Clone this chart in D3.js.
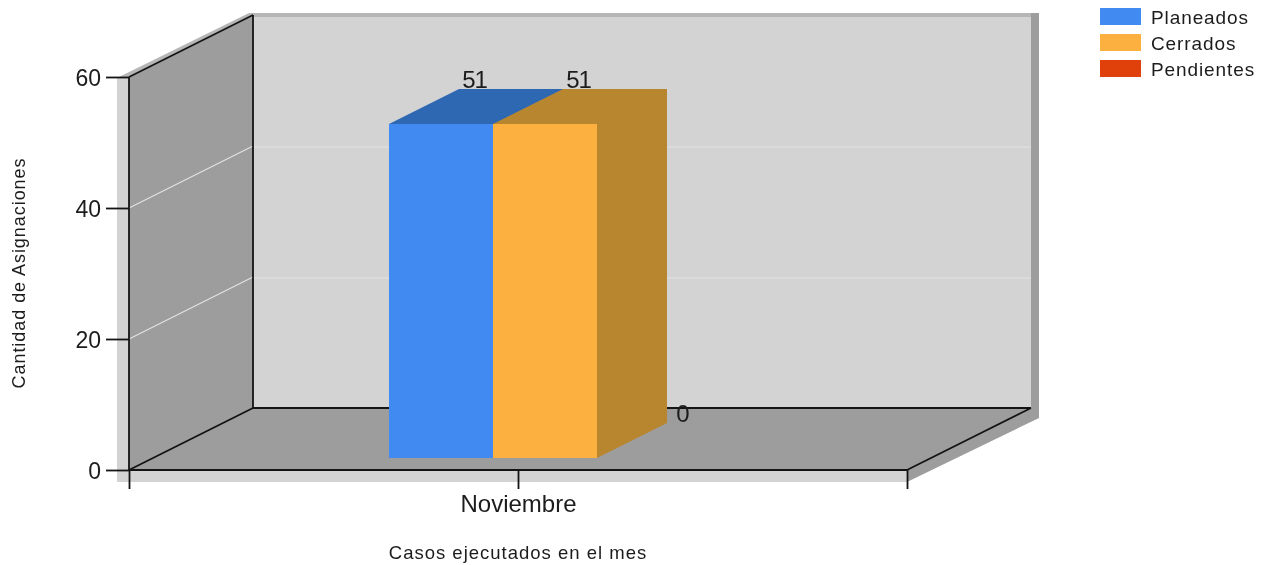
<!DOCTYPE html>
<html><head><meta charset="utf-8">
<script src="https://cdn.jsdelivr.net/npm/d3@7"></script>
<style>
html,body{margin:0;padding:0;background:#fff;overflow:hidden}
svg{display:block;filter:blur(.45px)}
text{font-family:"Liberation Sans",Arial,sans-serif;fill:#1c1c1c}
</style></head><body><svg id="c" width="1263" height="565"></svg>
<script>
const categories = ["Noviembre"];
const seriesNames = ["Planeados","Cerrados","Pendientes"];
const seriesValues = [51,51,0];
const seriesColors = ["#418af2","#fbb03f","#e0400a"];
const topColors = ["#2f68b2","#b98630","#a8300a"];
const yTicks = [0,20,40,60];
const xTitle = "Casos ejecutados en el mes";
const yTitle = "Cantidad de Asignaciones";

const L=129,R=907,T=77,B=470,DX=124,DY=62; // front plane + wall depth
const BDX=70,BDY=35,BASE=12;               // bar depth + base inset
const svg=d3.select("#c");
const y=d3.scaleLinear().domain([0,60]).range([B,T]);
const xAxisScale=d3.scalePoint().domain(["",categories[0]," "]).range([L,R]);
const xBar=d3.scaleBand().domain(seriesNames).range([389,701]);
const poly=(pts,fill,g=svg)=>g.append("polygon").attr("points",pts.map(p=>p.join(",")).join(" ")).attr("fill",fill);
const WALL="#d3d3d3",DARK="#9d9d9d",EDGE="#b6b6b6";

// outer shadow strips
poly([[117,T],[L,T],[L,B],[R,B],[R,482],[117,482]],WALL);
poly([[119,T],[L+DX-4,13],[1039,13],[1039,17],[L+DX,17],[L,T+1]],EDGE);
poly([[1031,13],[1039,13],[1039,418],[R,482],[R,B],[1031,B-DY]],DARK);

// walls
poly([[L+DX,17],[R+DX,17],[R+DX,B-DY],[L+DX,B-DY]],WALL);
poly([[L,T],[L+DX,T-DY],[L+DX,B-DY],[L,B]],DARK);
poly([[L,B],[L+DX,B-DY],[R+DX,B-DY],[R,B]],DARK);

// gridlines
yTicks.filter(v=>v>0&&v<60).forEach(v=>{
  svg.append("line").attr("x1",L).attr("y1",y(v)).attr("x2",L+DX).attr("y2",y(v)-DY).attr("stroke","#e2e2e2").attr("stroke-width",1.2);
  svg.append("line").attr("x1",L+DX).attr("x2",R+DX).attr("y1",y(v)-DY+1).attr("y2",y(v)-DY+1).attr("stroke","#e3e3e3").attr("stroke-width",1);
});

// wall frame lines
const INK="#141414";
[[[L,T],[L+DX,T-DY]],[[L+DX,T-DY],[L+DX,B-DY]],[[L+DX,B-DY],[R+DX,B-DY]],[[L,B],[L+DX,B-DY]],[[R,B],[R+DX,B-DY]]]
 .forEach(([a,b])=>svg.append("line").attr("x1",a[0]).attr("y1",a[1]).attr("x2",b[0]).attr("y2",b[1]).attr("stroke",INK).attr("stroke-width",1.8));

// axes
const ax=svg.append("g").attr("transform",`translate(${L},0)`).call(d3.axisLeft(y).tickValues(yTicks).tickSize(23).tickPadding(5));
ax.selectAll("text").attr("font-size",23).style("font-family",'"Liberation Sans"').attr("dy","0.36em");
ax.select(".domain").attr("stroke",INK).attr("stroke-width",1.8).attr("d",`M0,${T}V${B}`);
ax.selectAll("line").attr("stroke",INK).attr("stroke-width",1.8);
const bx=svg.append("g").attr("transform",`translate(0,${B})`).call(d3.axisBottom(xAxisScale).tickSize(19).tickPadding(6));
bx.select(".domain").attr("stroke",INK).attr("stroke-width",1.8).attr("d",`M${L},0H${R}`);
bx.selectAll("line").attr("stroke",INK).attr("stroke-width",1.8);
bx.selectAll("text").attr("font-size",24).style("font-family",'"Liberation Sans"').attr("dy","0.72em");

// bars
seriesNames.forEach((s,i)=>{
  const v=seriesValues[i], x0=xBar(s), w=xBar.bandwidth(), y0=y(0)-BASE, y1=y(v)-BASE;
  if(v>0){
    poly([[x0,y1],[x0+BDX,y1-BDY],[x0+w+BDX,y1-BDY],[x0+w+BDX,y0-BDY],[x0+w,y0],[x0+w,y1]],topColors[i]);
    poly([[x0,y1],[x0+w,y1],[x0+w,y0],[x0,y0]],seriesColors[i]);
  }
});
seriesNames.forEach((s,i)=>{
  const v=seriesValues[i];
  svg.append("text").attr("x",xBar(s)+xBar.bandwidth()/2+33.5).attr("y",y(v)-BASE-36).attr("text-anchor","middle").attr("font-size",24).attr("letter-spacing",-1).text(v);
});

// titles
svg.append("text").attr("x",518).attr("y",559).attr("text-anchor","middle").attr("font-size",18.5).attr("letter-spacing",1.0).text(xTitle);
svg.append("text").attr("transform","translate(25,273) rotate(-90)").attr("text-anchor","middle").attr("font-size",18).attr("letter-spacing",0.95).text(yTitle);

// legend
const lg=svg.append("g").selectAll("g").data(seriesNames).join("g").attr("transform",(d,i)=>`translate(1100,${8+i*26})`);
lg.append("rect").attr("width",41).attr("height",17).attr("fill",(d,i)=>seriesColors[i]);
lg.append("text").attr("x",51).attr("y",15.5).attr("font-size",19).attr("letter-spacing",0.9).text(d=>d);
</script></body></html>
